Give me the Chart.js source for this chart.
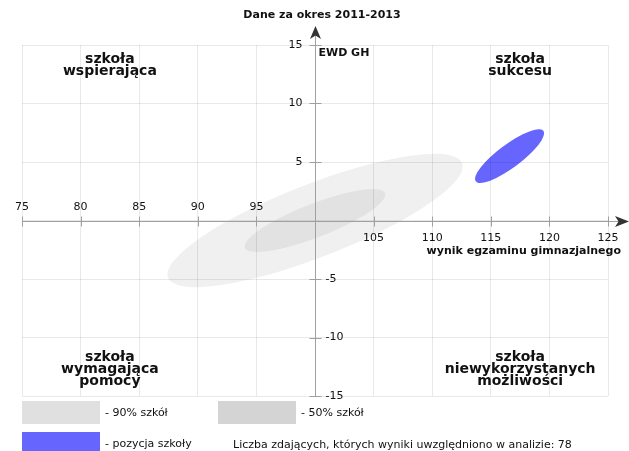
<!DOCTYPE html>
<html>
<head>
<meta charset="utf-8">
<script src="https://cdn.jsdelivr.net/npm/chart.js@4.4.1/dist/chart.umd.min.js"></script>
<style>
  html, body { margin: 0; padding: 0; background: #fff; }
  #wrap { width: 629px; height: 451px; }
</style>
</head>
<body>
<div id="wrap"><canvas id="ewd" width="629" height="451"></canvas></div>
<script>
// dane wykresu ------------------------------------
const xTickValues = [75, 80, 85, 90, 95, 105, 110, 115, 120, 125]; // bez 100 (przecięcie osi)
const yTickValues = [15, 10, 5, -5, -10, -15];
const ellipseLabels = ['90% szkół', '50% szkół', 'pozycja szkoły'];
const ellipseX = [100, 100, 116.6];      // środek - wynik egzaminu gimnazjalnego
const ellipseY = [0, 0, 5.5];            // środek - EWD GH
const ellipseHalfX = [12.6, 6.0, 2.95];  // połowa zasięgu w poziomie
const ellipseHalfY = [5.7, 2.7, 2.3];    // połowa zasięgu w pionie
const ellipseCorr = [0.81, 0.82, 0.85];  // korelacja (nachylenie)
const quadrantLabels = [
    ['szkoła', 'wspierająca'],
    ['szkoła', 'sukcesu'],
    ['szkoła', 'wymagająca', 'pomocy'],
    ['szkoła', 'niewykorzystanych', 'możliwości']
];
const quadrantX = [82.5, 117.5, 82.5, 117.5];
const quadrantY = [13.3, 13.3, -12.7, -12.7];
const liczbaZdajacych = 78;

// kolory
const ellipseColors = ['#f0f0f0', '#e2e2e2', '#6666ff'];
const legendColors = ['#e0e0e0', '#d4d4d4', '#6666ff'];
const axisColor = '#a0a0a0';
const FONT = '"DejaVu Sans", sans-serif';

// elipsy rysowane pod siatką
const ellipsePlugin = {
    id: 'ellipses',
    beforeDraw(chart) {
        const ctx = chart.ctx;
        const sx = chart.scales.x, sy = chart.scales.y;
        ctx.save();
        ctx.fillStyle = '#fff';
        ctx.fillRect(0, 0, chart.width, chart.height);
        for (let i = 0; i < ellipseX.length; i++) {
            const cx = sx.getPixelForValue(ellipseX[i]);
            const cy = sy.getPixelForValue(ellipseY[i]);
            // dwie sprzężone półśrednice
            const ax = sx.getPixelForValue(ellipseX[i] + ellipseHalfX[i]) - cx;
            const ay = sy.getPixelForValue(ellipseY[i] + ellipseCorr[i] * ellipseHalfY[i]) - cy;
            const by = sy.getPixelForValue(ellipseY[i] + ellipseHalfY[i] * Math.sqrt(1 - ellipseCorr[i] * ellipseCorr[i])) - cy;
            ctx.save();
            ctx.translate(cx, cy);
            ctx.transform(ax, ay, 0, by, 0, 0);
            ctx.beginPath();
            ctx.arc(0, 0, 1, 0, Math.PI * 2);
            ctx.restore();
            ctx.fillStyle = ellipseColors[i];
            ctx.fill();
        }
        ctx.restore();
    }
};

// osie, strzałki, opisy, legenda
const axesPlugin = {
    id: 'axes',
    afterDatasetsDraw(chart) {
        const ctx = chart.ctx;
        const sx = chart.scales.x, sy = chart.scales.y;
        const area = chart.chartArea;
        const x0 = Math.round(sx.getPixelForValue(100)) + 0.5;
        const y0 = Math.round(sy.getPixelForValue(0)) + 0.5;
        ctx.save();
        ctx.strokeStyle = axisColor;
        ctx.lineWidth = 1;
        ctx.beginPath();
        ctx.moveTo(area.left, y0); ctx.lineTo(620, y0);
        ctx.moveTo(x0, area.bottom); ctx.lineTo(x0, 33);
        // kreski podziałki
        xTickValues.forEach(v => {
            const px = Math.round(sx.getPixelForValue(v)) + 0.5;
            ctx.moveTo(px, y0 - 5); ctx.lineTo(px, y0 + 5);
        });
        yTickValues.forEach(v => {
            const py = Math.round(sy.getPixelForValue(v)) + 0.5;
            ctx.moveTo(x0 - 6, py); ctx.lineTo(x0 + 6, py);
        });
        ctx.stroke();

        // strzałki
        ctx.fillStyle = '#333';
        ctx.beginPath();
        ctx.moveTo(x0, 26); ctx.lineTo(x0 + 5.5, 39); ctx.lineTo(x0, 35.5); ctx.lineTo(x0 - 5.5, 39);
        ctx.closePath();
        ctx.fill();
        ctx.beginPath();
        ctx.moveTo(629, y0); ctx.lineTo(615, y0 - 5.5); ctx.lineTo(618.5, y0); ctx.lineTo(615, y0 + 5.5);
        ctx.closePath();
        ctx.fill();

        // etykiety podziałki
        ctx.fillStyle = '#111';
        ctx.font = '11px ' + FONT;
        ctx.textBaseline = 'middle';
        ctx.textAlign = 'center';
        xTickValues.forEach(v => {
            const px = sx.getPixelForValue(v);
            ctx.fillText(String(v), px, v < 100 ? y0 - 14 : y0 + 17);
        });
        yTickValues.forEach(v => {
            const py = sy.getPixelForValue(v);
            if (v > 0) {
                ctx.textAlign = 'right';
                ctx.fillText(String(v), x0 - 13, py);
            } else {
                ctx.textAlign = 'left';
                ctx.fillText(String(v), x0 + 10, py);
            }
        });

        // tytuły osi
        ctx.font = 'bold 11px ' + FONT;
        ctx.textAlign = 'left';
        ctx.fillText('EWD GH', x0 + 3, 53);
        ctx.textAlign = 'right';
        ctx.fillText('wynik egzaminu gimnazjalnego', 621, y0 + 30);
        ctx.textAlign = 'center';
        ctx.fillText('Dane za okres 2011-2013', 322, 15);

        // ćwiartki
        ctx.font = 'bold 14px ' + FONT;
        quadrantLabels.forEach((lines, i) => {
            const px = sx.getPixelForValue(quadrantX[i]);
            const py = sy.getPixelForValue(quadrantY[i]);
            const top = py - (lines.length - 1) * 12 / 2;
            lines.forEach((t, j) => ctx.fillText(t, px, top + j * 12));
        });

        // legenda
        const swatches = [[22, 401, 78, 23], [218, 401, 78, 23], [22, 432, 78, 22]];
        ctx.font = '11px ' + FONT;
        ctx.textAlign = 'left';
        swatches.forEach((s, i) => {
            ctx.fillStyle = legendColors[i];
            ctx.fillRect(s[0], s[1], s[2], s[3]);
            ctx.fillStyle = '#111';
            ctx.fillText('- ' + ellipseLabels[i], s[0] + s[2] + 5, s[1] + 12);
        });
        ctx.fillText('Liczba zdających, których wyniki uwzględniono w analizie: ' + liczbaZdajacych, 233, 445);
        ctx.restore();
    }
};

new Chart(document.getElementById('ewd'), {
    type: 'scatter',
    data: {
        datasets: ellipseLabels.map((name, i) => ({
            label: name,
            data: [{ x: ellipseX[i], y: ellipseY[i] }],
            pointRadius: 0,
            pointHoverRadius: 0
        }))
    },
    options: {
        responsive: false,
        animation: false,
        events: [],
        layout: { padding: { left: 22, right: 21, top: 45, bottom: 55 } },
        plugins: {
            legend: { display: false },
            title: { display: false },
            tooltip: { enabled: false }
        },
        scales: {
            x: {
                type: 'linear', min: 75, max: 125,
                ticks: { stepSize: 5, display: false },
                grid: { color: 'rgba(0,0,0,0.085)', drawTicks: false },
                border: { display: false }
            },
            y: {
                type: 'linear', min: -15, max: 15,
                ticks: { stepSize: 5, display: false },
                grid: { color: 'rgba(0,0,0,0.085)', drawTicks: false },
                border: { display: false }
            }
        }
    },
    plugins: [ellipsePlugin, axesPlugin]
});
</script>
</body>
</html>
